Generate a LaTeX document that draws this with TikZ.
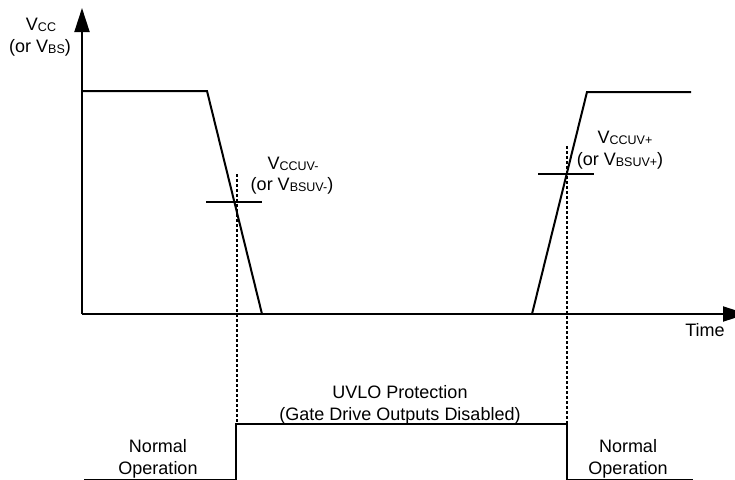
\documentclass[tikz,border=0pt]{standalone}
\usepackage{fontspec}
\setmainfont{Liberation Sans}
\usetikzlibrary{arrows.meta}
\newcommand{\lowidx}[1]{\raisebox{-1.5pt}{\fontsize{12.5}{12.5}\selectfont #1}}

\begin{document}
\begin{tikzpicture}[x=1pt, y=-1pt, every node/.style={font=\fontsize{18}{22}\selectfont, inner sep=0pt, anchor=base},
    axis/.style={line width=2pt, -{Triangle[length=24pt, width=15pt]}},
    wave/.style={line width=2pt, line join=miter},
    level/.style={line width=2pt},
    guide/.style={line width=1.5pt, dash pattern=on 3pt off 2pt}]
                        \useasboundingbox (0,0) rectangle (735,479);
                        \clip (0,0) rectangle (735,479);

                        \coordinate (org) at (82,314);
                        \coordinate (ytip) at (82,8);
                        \coordinate (xtip) at (747,314);
                        \draw[axis] (org) -- (ytip);
                        \draw[axis] (org) -- (xtip);

                        \coordinate (hiL) at (82,91);
                        \coordinate (fallA) at (207,91);
                        \coordinate (fallB) at (262,314);
                        \coordinate (riseA) at (532,314);
                        \coordinate (riseB) at (587,92);
                        \coordinate (hiR) at (691,92);
                        \draw[wave] (hiL) -- (fallA) -- (fallB);
                        \draw[wave] (riseA) -- (riseB) -- (hiR);

                        \draw[level] (206,202) -- (262,202);
                        \draw[level] (538,174) -- (594,174);

                        \coordinate (offT) at (237,174);
                        \coordinate (offB) at (237,424);
                        \coordinate (onT) at (567,146);
                        \coordinate (onB) at (567,424);
                        \draw[guide] (offT) -- (offB);
                        \draw[guide] (onT) -- (onB);

                        \coordinate (lowL) at (84,479.5);
                        \coordinate (upL) at (236,479.5);
                        \coordinate (upR) at (567,479.5);
                        \coordinate (lowR) at (693,479.5);
                        \draw[wave] (lowL) -- (upL) -- (236,424) -- (onB) -- (upR) -- (lowR);

                        \node (vcc) at (41,30) {V\lowidx{CC}};
                        \node (vbs) at (40,52) {(or V\lowidx{BS})};
                        \node (uvm) at (293,169) {V\lowidx{CCUV-}};
                        \node (uvmb) at (292,190) {(or V\lowidx{BSUV-})};
                        \node (uvp) at (625,143) {V\lowidx{CCUV+}};
                        \node (uvpb) at (620,165) {(or V\lowidx{BSUV+})};
                        \node (time) at (705,336) {Time};
                        \node (prot) at (400,398) {UVLO Protection};
                        \node (protb) at (400,420) {(Gate Drive Outputs Disabled)};
                        \node (normL) at (158,452) {Normal};
                        \node (normLb) at (158,474) {Operation};
                        \node (normR) at (628,452) {Normal};
                        \node (normRb) at (628,474) {Operation};
                    \end{tikzpicture}
\end{document}
